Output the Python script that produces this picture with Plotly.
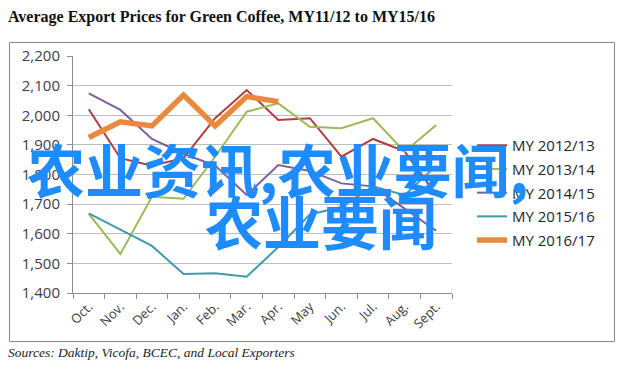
import plotly.graph_objects as go

months = ["Oct.", "Nov.", "Dec.", "Jan.", "Feb.", "Mar.", "Apr.", "May", "Jun.", "Jul.", "Aug.", "Sept."]
my_2012_13 = [2020, 1855, 1830, 1855, 1990, 2085, 1984, 1990, 1860, 1920, 1878, 1731]
my_2013_14 = [1667, 1532, 1725, 1718, 1860, 2012, 2040, 1961, 1956, 1990, 1877, 1967]
my_2014_15 = [2074, 2018, 1920, 1870, 1830, 1731, 1832, 1812, 1770, 1760, 1685, 1610]
my_2015_16 = [1669, 1613, 1559, 1464, 1467, 1455, 1555, 1665, 1690, 1760, 1730, 1830]
my_2016_17 = [1925, 1978, 1964, 2068, 1964, 2063, 2046]

series_names = ["MY 2012/13", "MY 2013/14", "MY 2014/15", "MY 2015/16", "MY 2016/17"]
series_values = [my_2012_13, my_2013_14, my_2014_15, my_2015_16, my_2016_17]
series_colors = ["#AE3D3C", "#9BBB59", "#7D5F9F", "#3F9AAF", "#E8893C"]
series_widths = [2, 2, 2, 2, 5.5]

title_text = "Average Export Prices for Green Coffee, MY11/12 to MY15/16"
source_text = "Sources: Daktip, Vicofa, BCEC, and Local Exporters"
watermark_1 = "农业资讯,农业要闻,"
watermark_2 = "农业要闻"

W, H = 628, 372
L, R, T, B = 73, 452, 56, 293


def px(x):
    return (x - L) / (R - L)


def py(y):
    return (B - y) / (B - T)


fig = go.Figure()
for i, (name, vals, col, w) in enumerate(zip(series_names, series_values, series_colors, series_widths)):
    fig.add_trace(go.Scatter(
        x=months[:len(vals)], y=vals, name=name, mode="lines",
        line=dict(color=col, width=w), legendgroup=f"g{i}",
    ))

fig.update_layout(
    width=W, height=H,
    margin=dict(l=L, r=W - R, t=T, b=H - B, pad=0),
    paper_bgcolor="white", plot_bgcolor="white",
    showlegend=True,
    legend=dict(
        x=px(472), y=py(129), xanchor="left", yanchor="top",
        font=dict(family="Open Sans", size=15, color="#262626"),
        tracegroupgap=1.2, itemwidth=30, bgcolor="rgba(0,0,0,0)",
    ),
    xaxis=dict(
        type="category", range=[-0.5, 11.5], tickangle=-45,
        showgrid=False, showline=True, linecolor="#8C8C8C", linewidth=1,
        ticks="outside", ticklen=5, tickcolor="#8C8C8C", tickson="boundaries",
        tickfont=dict(family="Open Sans", size=13, color="#404040"),
        zeroline=False,
    ),
    yaxis=dict(
        range=[1400, 2200], dtick=100, tickformat=",d",
        showgrid=True, gridcolor="#BDBDBD", gridwidth=1,
        showline=True, linecolor="#8C8C8C", linewidth=1,
        ticks="outside", ticklen=5, tickcolor="#8C8C8C",
        ticklabelstandoff=4,
        tickfont=dict(family="Open Sans", size=15, color="#404040"), zeroline=False,
    ),
    shapes=[dict(
        type="rect", xref="paper", yref="paper",
        x0=px(9.5), x1=px(614.5), y0=py(341.5), y1=py(42.5),
        line=dict(color="#888888", width=1), fillcolor="rgba(0,0,0,0)", layer="below",
    )],
    annotations=[
        dict(text="<b>" + title_text + "</b>", xref="paper", yref="paper",
             x=px(6), y=py(17), xanchor="left", yanchor="middle", showarrow=False,
             font=dict(family="Liberation Serif", size=16, color="#111111")),
        dict(text="<i>" + source_text + "</i>", xref="paper", yref="paper",
             x=px(6), y=py(352), xanchor="left", yanchor="middle", showarrow=False,
             font=dict(family="Liberation Serif", size=13.5, color="#222222")),
        dict(text="<b>" + watermark_1 + "</b>", xref="paper", yref="paper",
             x=px(278), y=py(168), xanchor="center", yanchor="middle", showarrow=False,
             font=dict(family="Noto Sans CJK SC", size=58, color="#1E8CFF")),
        dict(text="<b>" + watermark_2 + "</b>", xref="paper", yref="paper",
             x=px(321), y=py(220), xanchor="center", yanchor="middle", showarrow=False,
             font=dict(family="Noto Sans CJK SC", size=58, color="#1E8CFF")),
    ],
)

fig.write_html("out.html", post_script="document.body.style.margin='0';",
               config={"displayModeBar": False})
